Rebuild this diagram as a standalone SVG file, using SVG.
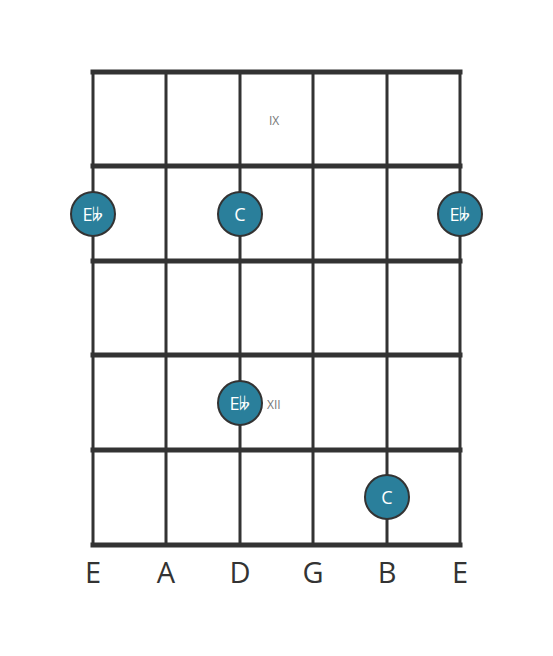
<svg xmlns="http://www.w3.org/2000/svg" width="553" height="656" viewBox="0 0 553 656">
<style>
.fret{stroke:#333;stroke-width:5;stroke-linecap:square}
.str{stroke:#333;stroke-width:3}
.dot circle{fill:#2a7f9b;stroke:#333;stroke-width:2}
.dot text{fill:#fff;font-family:"Open Sans","Noto Sans","DejaVu Sans",sans-serif;font-size:18px;text-anchor:middle;dominant-baseline:central}
.fn{fill:#777;font-family:"Open Sans","Noto Sans",sans-serif;font-size:12px;dominant-baseline:central}
.sl{fill:#333;font-family:"Open Sans","Noto Sans",sans-serif;font-size:29px;text-anchor:middle}
</style>
<rect width="553" height="656" fill="#fff"/>
<g id="grid">
<line class="str" x1="93" y1="72" x2="93" y2="545"/>
<line class="str" x1="166" y1="72" x2="166" y2="545"/>
<line class="str" x1="240" y1="72" x2="240" y2="545"/>
<line class="str" x1="313" y1="72" x2="313" y2="545"/>
<line class="str" x1="387" y1="72" x2="387" y2="545"/>
<line class="str" x1="460" y1="72" x2="460" y2="545"/>
<line class="fret" x1="93" y1="72" x2="460" y2="72"/>
<line class="fret" x1="93" y1="166" x2="460" y2="166"/>
<line class="fret" x1="93" y1="261" x2="460" y2="261"/>
<line class="fret" x1="93" y1="355" x2="460" y2="355"/>
<line class="fret" x1="93" y1="450" x2="460" y2="450"/>
<line class="fret" x1="93" y1="545" x2="460" y2="545"/>
</g>
<g id="fretnums">
<text class="fn" x="269" y="120">IX</text>
<text class="fn" x="267" y="404">XII</text>
</g>
<g id="n1" class="dot"><circle cx="93" cy="214" r="22"/><text x="93" y="214">E𝄫</text></g>
<g id="n2" class="dot"><circle cx="240" cy="214" r="22"/><text x="240" y="214">C</text></g>
<g id="n3" class="dot"><circle cx="460" cy="214" r="22"/><text x="460" y="214">E𝄫</text></g>
<g id="n4" class="dot"><circle cx="240" cy="403" r="22"/><text x="240" y="403">E𝄫</text></g>
<g id="n5" class="dot"><circle cx="387" cy="497" r="22"/><text x="387" y="497">C</text></g>
<g id="strings">
<text class="sl" x="93" y="583">E</text>
<text class="sl" x="166" y="583">A</text>
<text class="sl" x="240" y="583">D</text>
<text class="sl" x="313" y="583">G</text>
<text class="sl" x="387" y="583">B</text>
<text class="sl" x="460" y="583">E</text>
</g>
</svg>
